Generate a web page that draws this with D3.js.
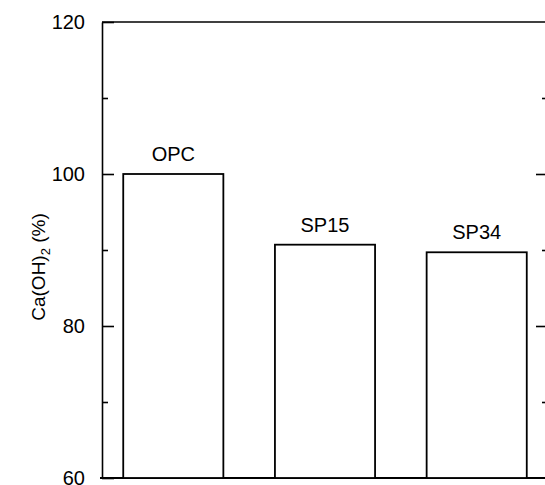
<!DOCTYPE html>
<html>
<head>
<meta charset="utf-8">
<script src="https://cdn.jsdelivr.net/npm/d3@7"></script>
<style>
  body { margin: 0; background: #fff; }
  svg { display: block; font-family: Arial, "Liberation Sans", Helvetica, sans-serif; }
</style>
</head>
<body>
<svg id="mainsvg" width="545" height="485"></svg>
<script>
const categories = ['OPC', 'SP15', 'SP34'];
const values = [100, 90.7, 89.7];
const majorTicks = [60, 80, 100, 120];
const minorTicks = [70, 90, 110];

const svg = d3.select('#mainsvg');
const width = +svg.attr('width');
const height = +svg.attr('height');
const plotLeft = 102, plotRight = 548, plotTop = 22, plotBottom = 478;

const y = d3.scaleLinear().domain([60, 120]).range([plotBottom, plotTop]);
const x = d3.scaleBand().domain(categories).range([plotLeft, plotRight])
  .paddingInner(0.34).paddingOuter(0.14);

// frame: top and bottom lines
svg.append('line')
  .attr('x1', plotLeft).attr('x2', width + 5)
  .attr('y1', y(120)).attr('y2', y(120))
  .attr('stroke', 'black').attr('stroke-width', 1.6);
svg.append('line')
  .attr('x1', plotLeft - 2).attr('x2', width + 5)
  .attr('y1', y(60)).attr('y2', y(60))
  .attr('stroke', 'black').attr('stroke-width', 1.8);

// bars
svg.selectAll('rect.bar').data(categories).join('rect')
  .attr('class', 'bar')
  .attr('x', d => x(d))
  .attr('y', (d, i) => y(values[i]))
  .attr('width', x.bandwidth())
  .attr('height', (d, i) => y(60) - y(values[i]))
  .attr('fill', 'white')
  .attr('stroke', 'black')
  .attr('stroke-width', 1.8);

svg.selectAll('text.lab').data(categories).join('text')
  .attr('class', 'lab')
  .attr('x', d => x(d) + x.bandwidth() / 2)
  .attr('y', (d, i) => y(values[i]) - 13)
  .attr('text-anchor', 'middle')
  .attr('font-size', 20)
  .text(d => d);

// left axis, ticks pointing inward
const gl = svg.append('g').attr('transform', `translate(${plotLeft},0)`)
  .call(d3.axisLeft(y).tickValues(majorTicks).tickSizeInner(-12).tickSizeOuter(0).tickPadding(17));
gl.select('.domain').attr('stroke-width', 1.6);
gl.selectAll('.tick line').attr('stroke-width', 1.6);
gl.selectAll('.tick text').attr('font-size', 20).attr('fill', 'black')
  .attr('font-family', 'Arial, "Liberation Sans", sans-serif');

const glm = svg.append('g').attr('transform', `translate(${plotLeft},0)`)
  .call(d3.axisLeft(y).tickValues(minorTicks).tickSizeInner(-6).tickSizeOuter(0).tickFormat(''));
glm.select('.domain').remove();
glm.selectAll('.tick line').attr('stroke-width', 1.6);

// right axis (off the edge), only ticks show
const gr = svg.append('g').attr('transform', `translate(${plotRight},0)`)
  .call(d3.axisRight(y).tickValues(majorTicks.slice(1, 3)).tickSizeInner(-12).tickSizeOuter(0).tickFormat(''));
gr.select('.domain').remove();
gr.selectAll('.tick line').attr('stroke-width', 1.6);
const grm = svg.append('g').attr('transform', `translate(${plotRight},0)`)
  .call(d3.axisRight(y).tickValues(minorTicks).tickSizeInner(-6).tickSizeOuter(0).tickFormat(''));
grm.select('.domain').remove();
grm.selectAll('.tick line').attr('stroke-width', 1.6);

// y label
const yl = svg.append('text')
  .attr('transform', `translate(45,${(plotTop + plotBottom) / 2 + 17}) rotate(-90)`)
  .attr('text-anchor', 'middle')
  .attr('font-size', 19);
yl.append('tspan').text('Ca(OH)');
yl.append('tspan').attr('font-size', 13).attr('dy', 5).text('2');
yl.append('tspan').attr('dy', -5).text(' (%)');
</script>
</body>
</html>
